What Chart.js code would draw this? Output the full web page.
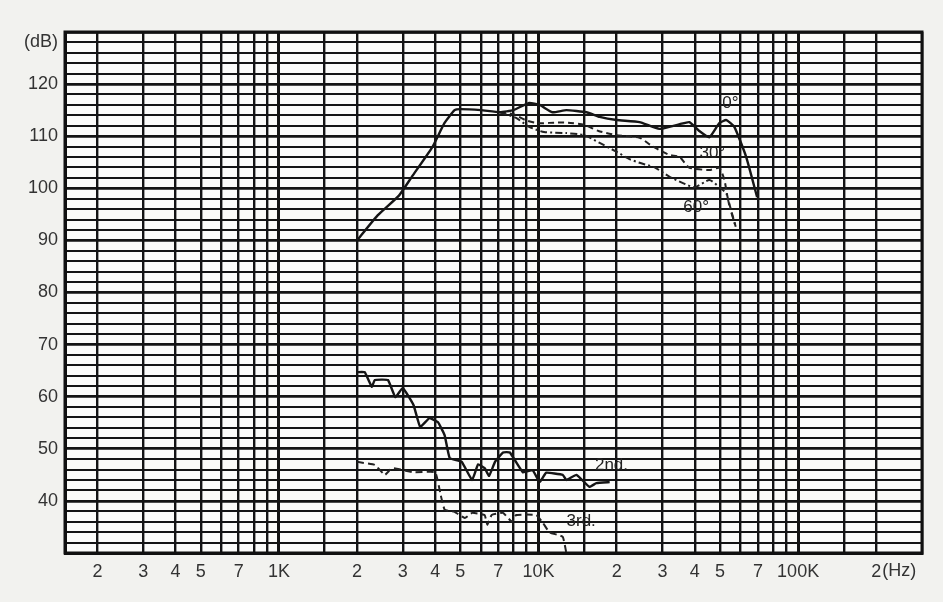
<!DOCTYPE html>
<html>
<head>
<meta charset="utf-8">
<script src="https://cdn.jsdelivr.net/npm/chart.js@4.4.1/dist/chart.umd.min.js"></script>
<style>
  body { margin: 0; background: #f2f2ef; }
  canvas { display: block; }
</style>
</head>
<body>
<canvas id="myChart" width="943" height="602"></canvas>
<script>
// on-axis response (0 deg)
const freq0 = [2000, 2400, 2900, 3250, 3900, 4340, 4750, 5000, 6000, 7100, 8000, 9200, 10100, 11300, 12800, 15300, 17200, 20000, 24500, 29200, 35000, 38100, 41600, 45500, 49700, 52900, 56800, 63100, 69500];
const db0 = [90, 94.8, 98.6, 102.2, 107.9, 112.5, 115, 115.2, 115, 114.6, 115, 116.4, 116, 114.6, 115, 114.6, 113.7, 113.1, 112.7, 111.4, 112.3, 112.7, 111, 109.8, 112.5, 113.1, 111.8, 106, 98.3];

// 30 deg off-axis
const freq30 = [7100, 8000, 9000, 10000, 11500, 13000, 15000, 17000, 20000, 24500, 27000, 29000, 32000, 35000, 38000, 45500, 49700, 52000, 53500, 57500];
const db30 = [114.6, 114.2, 113, 112.5, 112.6, 112.6, 112.2, 111, 110.2, 109.7, 108.3, 107.4, 106.4, 106, 104, 103.5, 103.9, 101.6, 98.3, 92.6];

// 60 deg off-axis
const freq60 = [7100, 8200, 9200, 10500, 12800, 15000, 17200, 20000, 22400, 24500, 28000, 32000, 36000, 40000, 45500, 49700, 52900, 54500, 57500];
const db60 = [114.6, 113.5, 111.8, 110.8, 110.6, 110.2, 108.7, 107, 105.6, 104.9, 104, 102.2, 101, 100.2, 101.6, 100.2, 99, 96.4, 92.6];

// 2nd harmonic distortion
const freq2nd = [2000, 2140, 2280, 2340, 2630, 2810, 3000, 3300, 3500, 3800, 4100, 4350, 4550, 5060, 5550, 5850, 6200, 6450, 6800, 7300, 7750, 8700, 9500, 10100, 10700, 12400, 12800, 14000, 15700, 16700, 18800];
const db2nd = [64.7, 64.7, 61.9, 63.2, 63.2, 59.9, 61.7, 58.4, 54.2, 55.9, 55.1, 52.6, 48.2, 47.5, 44, 47, 46.3, 44.8, 47.5, 49.3, 49.3, 45.5, 45.9, 43.6, 45.4, 45, 44, 45, 42.7, 43.4, 43.6];

// 3rd harmonic distortion
const freq3rd = [2000, 2340, 2560, 2730, 3300, 4000, 4200, 4350, 4750, 5200, 5550, 6200, 6350, 6600, 7300, 7900, 8200, 9800, 10400, 11000, 12400, 12800];
const db3rd = [47.5, 46.9, 45, 46.3, 45.5, 45.5, 41.1, 38.3, 37.9, 36.7, 37.7, 37.3, 35.4, 37.3, 37.7, 36, 37.3, 37.3, 35.8, 34, 33.1, 30];

// axis labels
const xTickValues = [200, 300, 400, 500, 700, 1000, 2000, 3000, 4000, 5000, 7000, 10000, 20000, 30000, 40000, 50000, 70000, 100000, 200000];
const xTickLabels = ['2', '3', '4', '5', '7', '1K', '2', '3', '4', '5', '7', '10K', '2', '3', '4', '5', '7', '100K', '2'];
const yTickValues = [40, 50, 60, 70, 80, 90, 100, 110, 120, 128];
const yTickLabels = ['40', '50', '60', '70', '80', '90', '100', '110', '120', '(dB)'];

const X_MIN = 150, X_MAX = 300000, Y_MIN = 30, Y_MAX = 130;

// log-paper grid: 1, 1.5, 2 ... 9 per decade
const xGrid = [];
[100, 1000, 10000, 100000].forEach(d => {
  [1, 1.5, 2, 3, 4, 5, 6, 7, 8, 9].forEach(m => {
    const v = d * m;
    if (v >= X_MIN && v <= X_MAX) xGrid.push(v);
  });
});
if (xGrid[xGrid.length - 1] !== X_MAX) xGrid.push(X_MAX);
const yGrid = [];
for (let v = Y_MIN; v <= Y_MAX; v += 2) yGrid.push(v);

const pts = (xs, ys) => xs.map((x, i) => ({ x: x, y: ys[i] }));

const tickFont = { family: "'Liberation Sans', Arial, sans-serif", size: 18 };

const paperPlugin = {
  id: 'paper',
  beforeDraw(chart) {
    const { ctx, chartArea: a } = chart;
    ctx.save();
    ctx.fillStyle = '#f2f2ef';
    ctx.fillRect(0, 0, chart.width, chart.height);
    ctx.fillStyle = '#fbfbf9';
    ctx.fillRect(a.left, a.top, a.right - a.left, a.bottom - a.top);
    ctx.restore();
  },
  afterDraw(chart) {
    const { ctx, chartArea: a, scales: { x, y } } = chart;
    ctx.save();
    ctx.strokeStyle = '#111';
    ctx.lineWidth = 3;
    ctx.strokeRect(a.left, a.top, a.right - a.left, a.bottom - a.top);
    ctx.fillStyle = '#222';
    ctx.font = "17px 'Liberation Sans', Arial, sans-serif";
    ctx.textBaseline = 'middle';
    const notes = [
      ['0°', 54800, 116.4], ['30°', 46700, 106.8], ['60°', 40500, 96.4],
      ['2nd.', 19100, 46.9], ['3rd.', 14600, 36.1]
    ];
    notes.forEach(([t, f, d]) => {
      ctx.textAlign = 'center';
      ctx.fillText(t, x.getPixelForValue(f), y.getPixelForValue(d));
    });
    // unit after the last x label
    ctx.font = "18px 'Liberation Sans', Arial, sans-serif";
    ctx.textAlign = 'left';
    ctx.fillStyle = '#333';
    ctx.fillText('(Hz)', x.getPixelForValue(200000) + 6, a.bottom + 18);
    ctx.restore();
  }
};

new Chart(document.getElementById('myChart'), {
  type: 'line',
  data: {
    datasets: [
      { label: '0°', data: pts(freq0, db0), borderColor: '#151515', borderWidth: 2.4, tension: 0.15 },
      { label: '30°', data: pts(freq30, db30), borderColor: '#222', borderWidth: 2, borderDash: [6, 4], tension: 0.2 },
      { label: '60°', data: pts(freq60, db60), borderColor: '#222', borderWidth: 2, borderDash: [7, 3, 2, 3], tension: 0.2 },
      { label: '2nd', data: pts(freq2nd, db2nd), borderColor: '#151515', borderWidth: 2.4, tension: 0.1 },
      { label: '3rd', data: pts(freq3rd, db3rd), borderColor: '#222', borderWidth: 2, borderDash: [7, 4], tension: 0.1 }
    ]
  },
  options: {
    responsive: false,
    animation: false,
    events: [],
    elements: { point: { radius: 0 } },
    layout: { padding: { top: 32, right: 21, left: 0, bottom: 0 } },
    plugins: { legend: { display: false }, tooltip: { enabled: false } },
    scales: {
      x: {
        type: 'logarithmic',
        min: X_MIN,
        max: X_MAX,
        afterBuildTicks: s => { s.ticks = xGrid.map(v => ({ value: v })); },
        afterFit: s => { s.height = 49; },
        ticks: {
          autoSkip: false,
          maxRotation: 0,
          padding: 8,
          color: '#333',
          font: tickFont,
          callback: v => {
            const i = xTickValues.indexOf(v);
            return i >= 0 ? xTickLabels[i] : '';
          }
        },
        grid: {
          drawTicks: false,
          color: '#141414',
          lineWidth: c => {
            const v = c.tick && c.tick.value;
            return [1000, 10000, 100000].includes(v) ? 3 : 2.4;
          }
        },
        border: { display: true, color: '#111', width: 3 }
      },
      y: {
        min: Y_MIN,
        max: Y_MAX,
        afterBuildTicks: s => { s.ticks = yGrid.map(v => ({ value: v })); },
        afterFit: s => { s.width = 65; },
        ticks: {
          autoSkip: false,
          padding: 7,
          color: '#333',
          font: tickFont,
          callback: v => {
            const i = yTickValues.indexOf(v);
            return i >= 0 ? yTickLabels[i] : '';
          }
        },
        grid: {
          drawTicks: false,
          color: '#141414',
          lineWidth: c => {
            const v = c.tick && c.tick.value;
            return v % 10 === 0 ? 2.8 : 2.1;
          }
        },
        border: { display: true, color: '#111', width: 3 }
      }
    }
  },
  plugins: [paperPlugin]
});
</script>
</body>
</html>
